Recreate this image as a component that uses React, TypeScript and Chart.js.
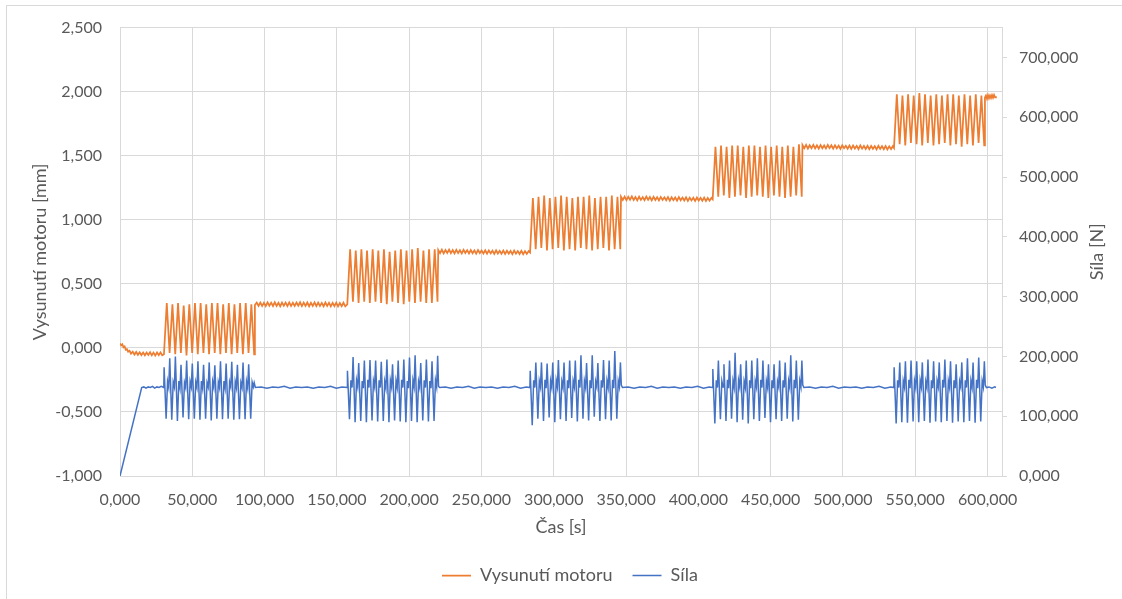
import React, { useEffect, useRef } from 'react';
import { Chart, registerables } from 'chart.js';

Chart.register(...registerables);

type Bod = [number, number];

// Vysunutí motoru [mm] vs. čas [s]
const vysunutiUvod: Bod[] = [[0,0.035],[0.8,0.02],[1.6,0.028],[2.4,0.005],[3.2,0.012],[4,-0.015],[4.8,-0.01],[5.6,-0.03],[6.6,-0.022],[7.6,-0.045],[8.8,-0.03],[10,-0.052],[11.2,-0.032],[12.4,-0.054],[13.6,-0.034],[14.8,-0.056],[16,-0.036],[17.2,-0.058],[18.4,-0.036],[19.6,-0.055],[20.8,-0.034],[22,-0.058],[23.2,-0.037],[24.4,-0.06],[25.6,-0.036],[26.8,-0.057],[28,-0.035],[29.2,-0.058],[30.4,-0.05]];
const vysunutiCyklus1: Bod[] = [[32.35,0.35],[34.3,-0.04],[36.25,0.34],[38.2,-0.05],[40.15,0.35],[42.1,-0.04],[44.05,0.33],[46,-0.06],[47.95,0.34],[49.9,-0.04],[51.85,0.35],[53.8,-0.05],[55.75,0.35],[57.7,-0.04],[59.65,0.34],[61.6,-0.05],[63.55,0.35],[65.5,-0.04],[67.45,0.35],[69.4,-0.05],[71.35,0.34],[73.3,-0.04],[75.25,0.35],[77.2,-0.05],[79.15,0.34],[81.1,-0.04],[83.05,0.35],[85,-0.05],[86.95,0.35],[88.9,-0.04],[90.85,0.34],[92.8,-0.05]];
const vysunutiKlid1: Bod[] = [[93.3,0.335],[94.55,0.353],[95.8,0.327],[97.05,0.354],[98.3,0.328],[99.55,0.352],[100.8,0.326],[102.05,0.355],[103.3,0.329],[104.55,0.353],[105.8,0.327],[107.05,0.356],[108.3,0.328],[109.55,0.352],[110.8,0.325],[112.05,0.354],[113.3,0.329],[114.55,0.353],[115.8,0.326],[117.05,0.355],[118.3,0.328],[119.55,0.352],[120.8,0.327],[122.05,0.354],[123.3,0.329],[124.55,0.356],[125.8,0.326],[127.05,0.353],[128.3,0.328],[129.55,0.354],[130.8,0.325],[132.05,0.352],[133.3,0.328],[134.55,0.355],[135.8,0.326],[137.05,0.353],[138.3,0.327],[139.55,0.351],[140.8,0.325],[142.05,0.354],[143.3,0.327],[144.55,0.352],[145.8,0.324],[147.05,0.351],[148.3,0.326],[149.55,0.353],[150.8,0.324],[152.05,0.35],[153.3,0.325],[154.55,0.352],[155.8,0.324],[157.2,0.34]];
const vysunutiCyklus2: Bod[] = [[159.15,0.77],[161.1,0.36],[163.05,0.76],[165,0.35],[166.95,0.77],[168.9,0.36],[170.85,0.76],[172.8,0.35],[174.75,0.77],[176.7,0.36],[178.65,0.76],[180.6,0.35],[182.55,0.77],[184.5,0.34],[186.45,0.75],[188.4,0.36],[190.35,0.76],[192.3,0.35],[194.25,0.77],[196.2,0.34],[198.15,0.76],[200.1,0.36],[202.05,0.77],[204,0.35],[205.95,0.78],[207.9,0.36],[209.85,0.76],[211.8,0.35],[213.75,0.77],[215.7,0.35],[217.65,0.77],[219.6,0.36]];
const vysunutiKlid2: Bod[] = [[220.1,0.765],[221.35,0.74],[222.6,0.766],[223.85,0.738],[225.1,0.764],[226.35,0.741],[227.6,0.767],[228.85,0.739],[230.1,0.763],[231.35,0.737],[232.6,0.765],[233.85,0.74],[235.1,0.762],[236.35,0.738],[237.6,0.766],[238.85,0.741],[240.1,0.763],[241.35,0.737],[242.6,0.764],[243.85,0.739],[245.1,0.761],[246.35,0.736],[247.6,0.763],[248.85,0.74],[250.1,0.76],[251.35,0.737],[252.6,0.762],[253.85,0.735],[255.1,0.761],[256.35,0.738],[257.6,0.759],[258.85,0.734],[260.1,0.762],[261.35,0.737],[262.6,0.758],[263.85,0.735],[265.1,0.76],[266.35,0.733],[267.6,0.758],[268.85,0.736],[270.1,0.757],[271.35,0.732],[272.6,0.759],[273.85,0.735],[275.1,0.756],[276.35,0.733],[277.6,0.758],[278.85,0.731],[280.1,0.755],[281.35,0.734],[282.6,0.756],[283.6,0.745]];
const vysunutiCyklus3: Bod[] = [[285.55,1.17],[287.5,0.77],[289.45,1.18],[291.4,0.78],[293.35,1.19],[295.3,0.76],[297.25,1.17],[299.2,0.77],[301.15,1.18],[303.1,0.78],[305.05,1.19],[307,0.76],[308.95,1.18],[310.9,0.77],[312.85,1.17],[314.8,0.76],[316.75,1.18],[318.7,0.78],[320.65,1.18],[322.6,0.77],[324.55,1.19],[326.5,0.76],[328.45,1.17],[330.4,0.77],[332.35,1.18],[334.3,0.78],[336.25,1.18],[338.2,0.76],[340.15,1.19],[342.1,0.77],[344.05,1.18],[346,0.77]];
const vysunutiKlid3: Bod[] = [[346.5,1.18],[347.75,1.155],[349,1.181],[350.25,1.153],[351.5,1.179],[352.75,1.156],[354,1.182],[355.25,1.154],[356.5,1.178],[357.75,1.152],[359,1.18],[360.25,1.155],[361.5,1.177],[362.75,1.153],[364,1.181],[365.25,1.156],[366.5,1.178],[367.75,1.152],[369,1.179],[370.25,1.154],[371.5,1.176],[372.75,1.151],[374,1.178],[375.25,1.155],[376.5,1.175],[377.75,1.152],[379,1.177],[380.25,1.15],[381.5,1.176],[382.75,1.153],[384,1.174],[385.25,1.149],[386.5,1.177],[387.75,1.152],[389,1.173],[390.25,1.15],[391.5,1.175],[392.75,1.148],[394,1.173],[395.25,1.151],[396.5,1.172],[397.75,1.147],[399,1.174],[400.25,1.15],[401.5,1.171],[402.75,1.148],[404,1.173],[405.25,1.146],[406.5,1.17],[407.75,1.149],[409,1.171],[409.9,1.16]];
const vysunutiCyklus4: Bod[] = [[411.825,1.57],[413.75,1.18],[415.675,1.58],[417.6,1.19],[419.525,1.57],[421.45,1.17],[423.375,1.58],[425.3,1.18],[427.225,1.58],[429.15,1.19],[431.075,1.57],[433,1.17],[434.925,1.58],[436.85,1.18],[438.775,1.58],[440.7,1.19],[442.625,1.57],[444.55,1.18],[446.475,1.58],[448.4,1.17],[450.325,1.57],[452.25,1.19],[454.175,1.58],[456.1,1.18],[458.025,1.57],[459.95,1.17],[461.875,1.58],[463.8,1.18],[465.725,1.57],[467.65,1.19],[469.575,1.59],[471.5,1.18]];
const vysunutiKlid4: Bod[] = [[472,1.583],[473.25,1.558],[474.5,1.584],[475.75,1.556],[477,1.582],[478.25,1.559],[479.5,1.585],[480.75,1.557],[482,1.581],[483.25,1.555],[484.5,1.583],[485.75,1.558],[487,1.58],[488.25,1.556],[489.5,1.584],[490.75,1.559],[492,1.581],[493.25,1.555],[494.5,1.582],[495.75,1.557],[497,1.579],[498.25,1.554],[499.5,1.581],[500.75,1.558],[502,1.578],[503.25,1.555],[504.5,1.58],[505.75,1.553],[507,1.579],[508.25,1.556],[509.5,1.577],[510.75,1.552],[512,1.58],[513.25,1.555],[514.5,1.576],[515.75,1.553],[517,1.578],[518.25,1.551],[519.5,1.576],[520.75,1.554],[522,1.575],[523.25,1.55],[524.5,1.577],[525.75,1.553],[527,1.574],[528.25,1.551],[529.5,1.576],[530.75,1.549],[532,1.573],[533.25,1.552],[534.5,1.574],[535.3,1.56]];
const vysunutiCyklus5: Bod[] = [[537.25,1.98],[539.2,1.59],[541.15,1.97],[543.1,1.58],[545.05,1.98],[547,1.6],[548.95,1.97],[550.9,1.59],[552.85,1.99],[554.8,1.58],[556.75,1.98],[558.7,1.6],[560.65,1.97],[562.6,1.58],[564.55,1.98],[566.5,1.59],[568.45,1.97],[570.4,1.6],[572.35,1.98],[574.3,1.58],[576.25,1.98],[578.2,1.59],[580.15,1.97],[582.1,1.57],[584.05,1.98],[586,1.59],[587.95,1.97],[589.9,1.58],[591.85,1.98],[593.8,1.6],[595.75,1.97],[597.7,1.58]];
const vysunutiKlid5: Bod[] = [[598.2,1.955],[598.9,1.97],[599.6,1.945],[600.3,1.972],[601,1.948],[601.7,1.97],[602.4,1.95],[603.1,1.973],[603.8,1.952],[604.5,1.974],[605.2,1.955],[605.8,1.965]];

// Síla [N] vs. čas [s]
const silaUvod: Bod[] = [[0,0],[15,148],[16.5,149],[18,147],[19.5,149],[21,148],[22.5,150],[24,147],[25.5,149],[27,148],[28.5,150],[30.3,148]];
const silaCyklus1: Bod[] = [[30.5,182],[31.9,96],[32.9,158],[33.7,148],[34.4,197],[35.8,94],[36.8,157],[37.6,149],[38.3,200],[39.7,92],[40.7,159],[41.5,147],[42.2,186],[43.6,98],[44.6,156],[45.4,148],[46.1,193],[47.5,95],[48.5,158],[49.3,149],[50,188],[51.4,96],[52.4,157],[53.2,148],[53.9,192],[55.3,94],[56.3,159],[57.1,147],[57.8,186],[59.2,96],[60.2,156],[61,149],[61.7,190],[63.1,93],[64.1,158],[64.9,148],[65.6,185],[67,96],[68,157],[68.8,148],[69.5,192],[70.9,95],[71.9,159],[72.7,147],[73.4,188],[74.8,96],[75.8,157],[76.6,149],[77.3,191],[78.7,94],[79.7,158],[80.5,148],[81.2,186],[82.6,95],[83.6,156],[84.4,148],[85.1,190],[86.5,95],[87.5,158],[88.3,147],[89,187],[90.4,96],[91.4,157],[92.2,149],[92.8,156],[93.6,148]];
const silaKlid1: Bod[] = [[97.6,149],[101.6,147],[105.6,149],[109.6,148],[113.6,150],[117.6,147],[121.6,149],[125.6,148],[129.6,149],[133.6,147],[137.6,149],[141.6,148],[145.6,150],[149.6,147],[153.6,149],[157.1,148]];
const silaCyklus2: Bod[] = [[157.3,176],[158.7,95],[159.7,160],[160.5,148],[161.2,199],[162.6,90],[163.6,160],[164.4,149],[165.1,189],[166.5,92],[167.5,159],[168.3,147],[169,193],[170.4,90],[171.4,161],[172.2,148],[172.9,194],[174.3,93],[175.3,159],[176.1,149],[176.8,193],[178.2,91],[179.2,160],[180,148],[180.7,191],[182.1,92],[183.1,158],[183.9,147],[184.6,195],[186,90],[187,160],[187.8,149],[188.5,187],[189.9,93],[190.9,159],[191.7,148],[192.4,193],[193.8,91],[194.8,161],[195.6,148],[196.3,195],[197.7,90],[198.7,159],[199.5,147],[200.2,198],[201.6,92],[202.6,160],[203.4,149],[204.1,202],[205.5,90],[206.5,158],[207.3,148],[208,189],[209.4,93],[210.4,160],[211.2,148],[211.9,195],[213.3,91],[214.3,159],[215.1,147],[215.8,192],[217.2,92],[218.2,160],[219,149],[219.7,201],[220.3,150],[221,148]];
const silaKlid2: Bod[] = [[225,149],[229,147],[233,149],[237,148],[241,150],[245,147],[249,149],[253,148],[257,149],[261,147],[265,149],[269,148],[273,150],[277,147],[281,149],[283.5,148]];
const silaCyklus3: Bod[] = [[283.7,176],[285.1,85],[286.1,160],[286.9,148],[287.6,190],[289,96],[290,159],[290.8,149],[291.5,190],[292.9,92],[293.9,161],[294.7,147],[295.4,188],[296.8,98],[297.8,159],[298.6,148],[299.3,190],[300.7,90],[301.7,160],[302.5,149],[303.2,194],[304.6,95],[305.6,158],[306.4,148],[307.1,190],[308.5,92],[309.5,160],[310.3,147],[311,193],[312.4,97],[313.4,159],[314.2,149],[314.9,193],[316.3,91],[317.3,161],[318.1,148],[318.8,202],[320.2,96],[321.2,159],[322,148],[322.7,189],[324.1,93],[325.1,160],[325.9,147],[326.6,202],[328,99],[329,158],[329.8,149],[330.5,189],[331.9,92],[332.9,160],[333.7,148],[334.4,194],[335.8,95],[336.8,159],[337.6,148],[338.3,193],[339.7,93],[340.7,161],[341.5,147],[342.2,209],[343.6,96],[344.6,159],[345.4,149],[346.1,190],[346.7,152],[347.5,148]];
const silaKlid3: Bod[] = [[351.5,149],[355.5,147],[359.5,149],[363.5,148],[367.5,150],[371.5,147],[375.5,149],[379.5,148],[383.5,149],[387.5,147],[391.5,149],[395.5,148],[399.5,150],[403.5,147],[407.5,149],[409.8,148]];
const silaCyklus4: Bod[] = [[410,179],[411.4,88],[412.4,160],[413.2,148],[413.85,193],[415.25,95],[416.25,159],[417.05,149],[417.7,187],[419.1,92],[420.1,161],[420.9,147],[421.55,193],[422.95,96],[423.95,159],[424.75,148],[425.4,206],[426.8,90],[427.8,160],[428.6,149],[429.25,187],[430.65,94],[431.65,158],[432.45,148],[433.1,193],[434.5,88],[435.5,160],[436.3,147],[436.95,193],[438.35,95],[439.35,159],[440.15,149],[440.8,197],[442.2,92],[443.2,161],[444,148],[444.65,193],[446.05,97],[447.05,159],[447.85,148],[448.5,187],[449.9,90],[450.9,160],[451.7,147],[452.35,187],[453.75,95],[454.75,158],[455.55,149],[456.2,193],[457.6,92],[458.6,160],[459.4,148],[460.05,190],[461.45,96],[462.45,159],[463.25,148],[463.9,202],[465.3,91],[466.3,161],[467.1,147],[467.75,193],[469.15,94],[470.15,159],[470.95,149],[471.6,193],[472.2,152],[473,148]];
const silaKlid4: Bod[] = [[477,149],[481,147],[485,149],[489,148],[493,150],[497,147],[501,149],[505,148],[509,149],[513,147],[517,149],[521,148],[525,150],[529,147],[533,149],[535.2,148]];
const silaCyklus5: Bod[] = [[535.4,182],[536.8,88],[537.8,160],[538.6,148],[539.3,190],[540.7,90],[541.7,159],[542.5,149],[543.2,192],[544.6,89],[545.6,161],[546.4,147],[547.1,193],[548.5,91],[549.5,159],[550.3,148],[551,192],[552.4,90],[553.4,160],[554.2,149],[554.9,190],[556.3,92],[557.3,158],[558.1,148],[558.8,195],[560.2,89],[561.2,160],[562,147],[562.7,192],[564.1,91],[565.1,159],[565.9,149],[566.6,190],[568,90],[569,161],[569.8,148],[570.5,195],[571.9,92],[572.9,159],[573.7,148],[574.4,192],[575.8,89],[576.8,160],[577.6,147],[578.3,187],[579.7,91],[580.7,158],[581.5,149],[582.2,190],[583.6,90],[584.6,160],[585.4,148],[586.1,197],[587.5,92],[588.5,159],[589.3,148],[590,190],[591.4,89],[592.4,161],[593.2,147],[593.9,198],[595.3,91],[596.3,159],[597.1,149],[597.8,192],[598.4,152],[599.2,148]];
const silaKonec: Bod[] = [[601,149],[603,147],[605,149],[605.8,148]];

const nazvySerii = ['Vysunutí motoru', 'Síla'];
const nazevOsyX = 'Čas [s]';
const nazevOsyY = 'Vysunutí motoru [mm]';
const nazevOsyY2 = 'Síla [N]';
const popiskyCasu = [0, 50, 100, 150, 200, 250, 300, 350, 400, 450, 500, 550, 600];
const popiskyVysunuti = [-1, -0.5, 0, 0.5, 1, 1.5, 2, 2.5];
const popiskySily = [0, 100, 200, 300, 400, 500, 600, 700];

const FONT = 'Lato, "Open Sans", sans-serif';
const TEXT = '#595959';
const GRID = '#d9d9d9';
const ORANGE = '#ED7D31';
const BLUE = '#4472C4';

const fmt = (v: number | string) => Number(v).toFixed(3).replace('.', ',');
const toXY = (pts: Bod[]) => pts.map(([x, y]) => ({ x, y }));
const setTicks = (vals: number[]) => (s: any) => { s.ticks = vals.map((value) => ({ value })); };

const rightTitlePlugin = {
  id: 'rightTitle',
  afterDraw(chart: any) {
    const { ctx, chartArea } = chart;
    ctx.save();
    ctx.font = `18px ${FONT}`;
    ctx.fillStyle = TEXT;
    ctx.textAlign = 'center';
    ctx.textBaseline = 'middle';
    ctx.translate(1097, (chartArea.top + chartArea.bottom) / 2);
    ctx.rotate(-Math.PI / 2);
    ctx.fillText(nazevOsyY2, 0, 0);
    ctx.restore();
  },
};

export default function App() {
  const ref = useRef<HTMLCanvasElement | null>(null);

  useEffect(() => {
    if (!ref.current) return;
    const vysunuti = [
      ...vysunutiUvod, ...vysunutiCyklus1, ...vysunutiKlid1, ...vysunutiCyklus2, ...vysunutiKlid2,
      ...vysunutiCyklus3, ...vysunutiKlid3, ...vysunutiCyklus4, ...vysunutiKlid4, ...vysunutiCyklus5, ...vysunutiKlid5,
    ];
    const sila = [
      ...silaUvod, ...silaCyklus1, ...silaKlid1, ...silaCyklus2, ...silaKlid2,
      ...silaCyklus3, ...silaKlid3, ...silaCyklus4, ...silaKlid4, ...silaCyklus5, ...silaKonec,
    ];
    const tickFont = { family: FONT, size: 16 };
    const titleFont = { family: FONT, size: 18 };
    const chart = new Chart(ref.current, {
      type: 'line',
      data: {
        datasets: [
          {
            label: nazvySerii[0],
            data: toXY(vysunuti),
            borderColor: ORANGE,
            backgroundColor: ORANGE,
            borderWidth: 1.75,
            pointRadius: 0,
            tension: 0,
            yAxisID: 'y',
          },
          {
            label: nazvySerii[1],
            data: toXY(sila),
            borderColor: BLUE,
            backgroundColor: BLUE,
            borderWidth: 1.5,
            pointRadius: 0,
            tension: 0,
            yAxisID: 'y1',
          },
        ],
      },
      options: {
        animation: false,
        responsive: false,
        maintainAspectRatio: false,
        layout: { padding: { top: 25, bottom: 4.5, left: 18, right: 0 } },
        plugins: {
          tooltip: { enabled: false },
          legend: {
            position: 'bottom',
            labels: {
              usePointStyle: true,
              pointStyle: 'line',
              pointStyleWidth: 29,
              font: { family: FONT, size: 18 },
              color: TEXT,
              padding: 20,
            },
          },
        },
        scales: {
          x: {
            type: 'linear',
            position: 'bottom',
            min: 0,
            max: 610,
            ticks: { callback: (v: any) => fmt(v), font: tickFont, color: TEXT, padding: 14.4, maxRotation: 0, autoSkip: false },
            afterBuildTicks: setTicks(popiskyCasu),
            afterFit: (s: any) => { s.height = 70.5; },
            grid: { color: GRID, drawTicks: false },
            border: { color: GRID },
            title: { display: true, text: nazevOsyX, font: titleFont, color: TEXT, padding: { top: 4, bottom: 8.7 } },
          },
          y: {
            type: 'linear',
            position: 'left',
            min: -1,
            max: 2.5,
            ticks: { callback: (v: any) => fmt(v), font: tickFont, color: TEXT, padding: 18 },
            afterBuildTicks: setTicks(popiskyVysunuti),
            afterFit: (s: any) => { s.width = 102; },
            grid: { color: GRID, drawTicks: false },
            border: { color: GRID },
            title: { display: true, text: nazevOsyY, font: titleFont, color: TEXT, padding: { top: 11, bottom: 0 } },
          },
          y1: {
            type: 'linear',
            position: 'right',
            min: 0,
            max: 750,
            ticks: { callback: (v: any) => fmt(v), font: tickFont, color: TEXT, padding: 12 },
            afterBuildTicks: setTicks(popiskySily),
            afterFit: (s: any) => { s.width = 120; },
            grid: { color: GRID, drawOnChartArea: false, drawTicks: true, tickLength: 5 },
            border: { color: GRID },
          },
        },
      },
      plugins: [rightTitlePlugin],
    } as any);
    return () => chart.destroy();
  }, []);

  return (
    <div style={{ position: 'fixed', left: 0, top: 0, width: 1122, height: 599, background: '#fff', overflow: 'hidden' }}>
      <div style={{ position: 'absolute', left: 6, top: 5, width: 1116, height: 594, borderLeft: `1px solid ${GRID}`, borderTop: `1px solid ${GRID}` }} />
      <canvas ref={ref} width={1122} height={599} style={{ position: 'absolute', left: 0, top: 0, width: 1122, height: 599 }} />
    </div>
  );
}
